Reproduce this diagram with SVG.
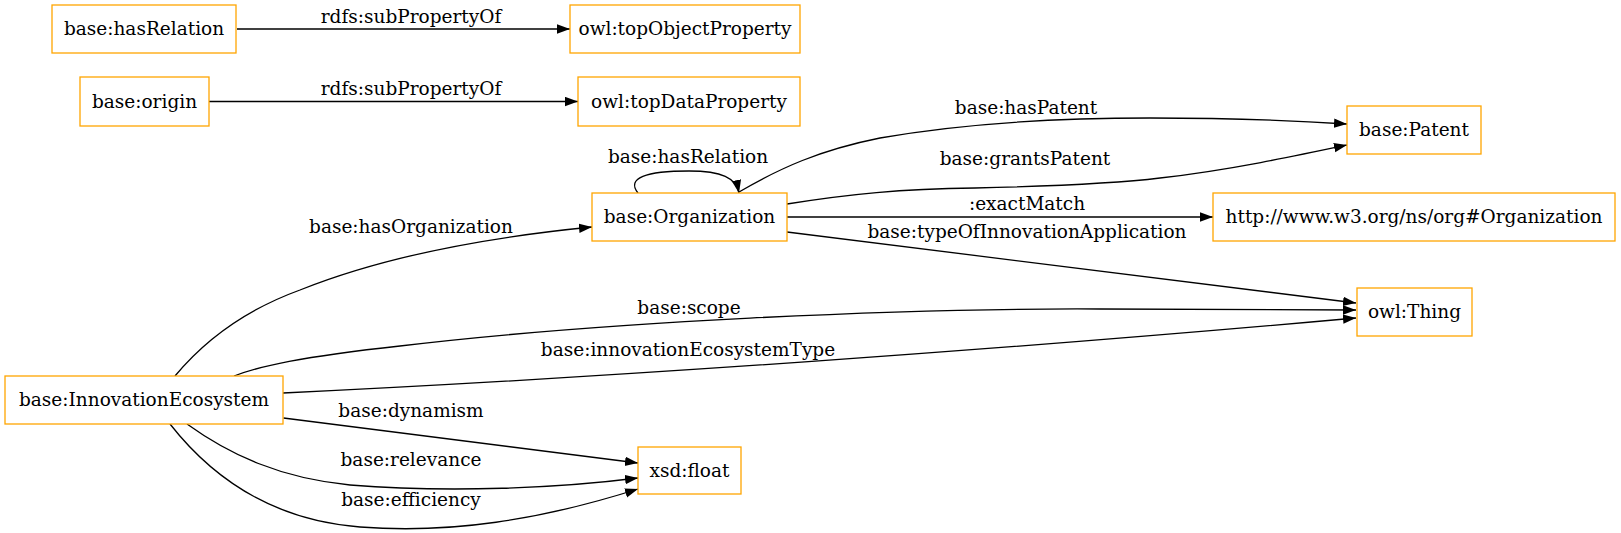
<svg xmlns="http://www.w3.org/2000/svg" width="1621" height="533" viewBox="0 0 1621 533">
<style>
.n rect{fill:#fff;stroke:#ffa500;stroke-width:1.3}
text{font-family:"DejaVu Serif",serif;font-size:18.5px;text-anchor:middle;fill:#000}
.e path{fill:none;stroke:#000;stroke-width:1.3}
</style>
<defs>
<marker id="a" markerUnits="userSpaceOnUse" markerWidth="14" markerHeight="10" refX="13" refY="4.7" orient="auto">
<path d="M0,0 L13,4.7 L0,9.4 z" fill="#000"/>
</marker>
</defs>
<rect width="1621" height="533" fill="#fff"/>
<g class="e" id="edges">
<path marker-end="url(#a)" d="M237,29 L570,29"/>
<path marker-end="url(#a)" d="M209,101.5 L578,101.5"/>
<path marker-end="url(#a)" d="M638,193 C626,178 646,171 689,171 C722,171 736,178 739,193"/>
<path marker-end="url(#a)" d="M739,192 C780,168 820,150 880,138 C960,124 1050,118 1150,118 C1230,118 1300,121 1347,124"/>
<path marker-end="url(#a)" d="M787,204 C850,194 900,189 975,188 C1060,186 1120,183 1160,178 C1230,170 1300,155 1347,145"/>
<path marker-end="url(#a)" d="M787,217 L1213,217"/>
<path marker-end="url(#a)" d="M787,232 L1356,303"/>
<path marker-end="url(#a)" d="M234,376 C260,366 300,357 400,346 C600,322 900,308 1100,309 C1200,309 1300,310 1356,310"/>
<path marker-end="url(#a)" d="M283,393 C600,378 1000,350 1356,318"/>
<path marker-end="url(#a)" d="M175,376 C205,340 245,310 300,290 C380,258 480,238 592,227"/>
<path marker-end="url(#a)" d="M283.5,418 L638,463"/>
<path marker-end="url(#a)" d="M187,424 C230,455 280,478 350,485 C450,493 560,488 638,478"/>
<path marker-end="url(#a)" d="M170,424 C210,475 270,520 360,527 C450,534 540,520 638,489"/>
<text x="411" y="23">rdfs:subPropertyOf</text>
<text x="411" y="95">rdfs:subPropertyOf</text>
<text x="688" y="163">base:hasRelation</text>
<text x="1026" y="114">base:hasPatent</text>
<text x="1025" y="165">base:grantsPatent</text>
<text x="1027" y="210">:exactMatch</text>
<text x="1027" y="238">base:typeOfInnovationApplication</text>
<text x="411" y="233">base:hasOrganization</text>
<text x="689" y="314">base:scope</text>
<text x="688" y="356">base:innovationEcosystemType</text>
<text x="411" y="417">base:dynamism</text>
<text x="411" y="466">base:relevance</text>
<text x="411" y="506">base:efficiency</text>
</g>
<g class="n" id="n-hasRelation"><rect x="52" y="5" width="184" height="48"/><text x="144" y="35">base:hasRelation</text></g>
<g class="n" id="n-topObjectProperty"><rect x="570" y="5" width="230" height="48"/><text x="685" y="35">owl:topObjectProperty</text></g>
<g class="n" id="n-origin"><rect x="80" y="77" width="129" height="49"/><text x="144.5" y="107.5">base:origin</text></g>
<g class="n" id="n-topDataProperty"><rect x="578" y="77" width="222" height="49"/><text x="689" y="107.5">owl:topDataProperty</text></g>
<g class="n" id="n-Patent"><rect x="1347" y="106" width="134" height="48"/><text x="1414" y="136">base:Patent</text></g>
<g class="n" id="n-Organization"><rect x="592" y="193" width="195" height="48"/><text x="689.5" y="223">base:Organization</text></g>
<g class="n" id="n-w3org"><rect x="1213" y="193" width="402" height="48"/><text x="1414" y="223">http://www.w3.org/ns/org#Organization</text></g>
<g class="n" id="n-Thing"><rect x="1357" y="288" width="115" height="48"/><text x="1414.5" y="318">owl:Thing</text></g>
<g class="n" id="n-InnovationEcosystem"><rect x="5" y="376" width="278" height="48"/><text x="144" y="406">base:InnovationEcosystem</text></g>
<g class="n" id="n-float"><rect x="638" y="447" width="103" height="47"/><text x="689.5" y="476.5">xsd:float</text></g>
</svg>
